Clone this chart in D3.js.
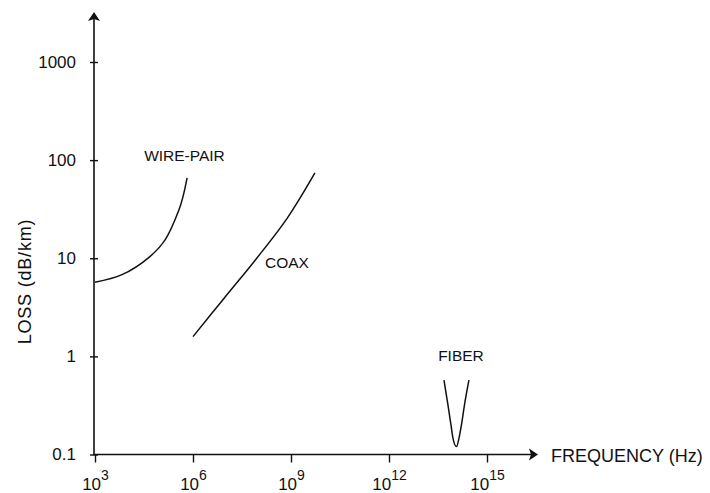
<!DOCTYPE html>
<html>
<head>
<meta charset="utf-8">
<script src="https://cdn.jsdelivr.net/npm/d3@7"></script>
<style>
  html, body { margin: 0; padding: 0; background: #fff; }
  svg text { font-family: "Liberation Sans", Arial, Helvetica, sans-serif; fill: #111; }
</style>
</head>
<body>
<div id="chart"></div>
<script>
// axis ticks
const freqTicks = [1e3, 1e6, 1e9, 1e12, 1e15];
const freqExponents = ['3', '6', '9', '12', '15'];
const lossTicks = [0.1, 1, 10, 100, 1000];
const lossTickLabels = ['0.1', '1', '10', '100', '1000'];

// curves (frequency in Hz, loss in dB/km)
const wirePairFreq = [1e3, 6.7e3, 4.8e4, 1.4e5, 3.7e5, 4.9e5, 6.6e5];
const wirePairLoss = [5.7, 6.8, 10.4, 15.4, 31, 42, 66];
const coaxFreq = [1e6, 9e6, 8e7, 7.6e8, 5.4e9];
const coaxLoss = [1.59, 3.92, 9.55, 25.5, 74];
const fiberFreq = [4.82e13, 6.39e13, 7.89e13, 9.08e13, 1.16e14, 1.39e14, 1.65e14, 2.04e14, 2.8e14];
const fiberLoss = [0.573, 0.319, 0.2, 0.147, 0.1205, 0.147, 0.2, 0.319, 0.573];

// curve names and where their labels sit (data space)
const curveNames = ['WIRE-PAIR', 'COAX', 'FIBER'];
const labelFreq = [3.2e4, 1.6e8, 3.2e13];
const labelLoss = [98, 7.9, 0.9];

const width = 710, height = 493;
const axisX = 94, axisY = 454.5;

const svg = d3.select('#chart').append('svg')
  .attr('width', width)
  .attr('height', height);

const x = d3.scaleLog().domain([1e3, 1e15]).range([95, 487]);
const y = d3.scaleLog().domain([0.1, 1000]).range([454.5, 62]);

// y axis
const yAxis = d3.axisLeft(y)
  .tickValues(lossTicks)
  .tickFormat((d, i) => lossTickLabels[i])
  .tickSizeInner(4)
  .tickSizeOuter(0)
  .tickPadding(14);
const gy = svg.append('g')
  .attr('transform', `translate(${axisX},0)`)
  .call(yAxis);
gy.select('.domain').remove();
gy.selectAll('.tick line').attr('x1', 4).attr('stroke', '#111').attr('stroke-width', 1.4);
gy.selectAll('.tick text')
  .style('font-size', '17px')
  .attr('fill', '#111');

// x axis
const xAxis = d3.axisBottom(x)
  .tickValues(freqTicks)
  .tickFormat('')
  .tickSizeInner(8)
  .tickSizeOuter(0);
const gx = svg.append('g')
  .attr('transform', `translate(0,${axisY})`)
  .call(xAxis);
gx.select('.domain').remove();
gx.selectAll('.tick line').attr('stroke', '#111').attr('stroke-width', 1.4);
const tickText = gx.selectAll('.tick').append('text')
  .attr('y', 35)
  .attr('text-anchor', 'middle')
  .style('font-size', '17px');
tickText.append('tspan').text('10');
tickText.append('tspan')
  .attr('dy', -10)
  .style('font-size', '14px')
  .text((d, i) => freqExponents[i]);

// axis lines with arrows
svg.append('line')
  .attr('x1', axisX).attr('y1', axisY + 0.5)
  .attr('x2', axisX).attr('y2', 18)
  .attr('stroke', '#111').attr('stroke-width', 1.6);
svg.append('path')
  .attr('d', `M${axisX},12 L${axisX + 6},21 L${axisX},19 L${axisX - 6},21 Z`)
  .attr('fill', '#111');
svg.append('line')
  .attr('x1', axisX - 0.5).attr('y1', axisY)
  .attr('x2', 533).attr('y2', axisY)
  .attr('stroke', '#111').attr('stroke-width', 1.6);
svg.append('path')
  .attr('d', `M538,${axisY} L529,${axisY - 6} L531,${axisY} L529,${axisY + 6} Z`)
  .attr('fill', '#111');

// axis titles
svg.append('text')
  .attr('x', 551)
  .attr('y', 462)
  .style('font-size', '18px')
  .text('FREQUENCY (Hz)');
svg.append('text')
  .attr('transform', 'translate(31,281.5) rotate(-90)')
  .attr('text-anchor', 'middle')
  .style('font-size', '18px')
  .style('letter-spacing', '0.8px')
  .text('LOSS (dB/km)');

// curves
const smooth = d3.line()
  .x(d => x(d[0]))
  .y(d => y(d[1]))
  .curve(d3.curveCatmullRom.alpha(0.5));
const monotone = d3.line()
  .x(d => x(d[0]))
  .y(d => y(d[1]))
  .curve(d3.curveMonotoneX);

const series = [
  {pts: d3.zip(wirePairFreq, wirePairLoss), gen: smooth},
  {pts: d3.zip(coaxFreq, coaxLoss), gen: smooth},
  {pts: d3.zip(fiberFreq, fiberLoss), gen: monotone}
];

svg.selectAll('path.curve')
  .data(series)
  .enter()
  .append('path')
  .attr('class', 'curve')
  .attr('d', d => d.gen(d.pts))
  .attr('fill', 'none')
  .attr('stroke', '#111')
  .attr('stroke-width', 1.5);

svg.selectAll('text.curve-label')
  .data(curveNames)
  .enter()
  .append('text')
  .attr('class', 'curve-label')
  .attr('x', (d, i) => x(labelFreq[i]))
  .attr('y', (d, i) => y(labelLoss[i]))
  .style('font-size', '15.5px')
  .text(d => d);
</script>
</body>
</html>
